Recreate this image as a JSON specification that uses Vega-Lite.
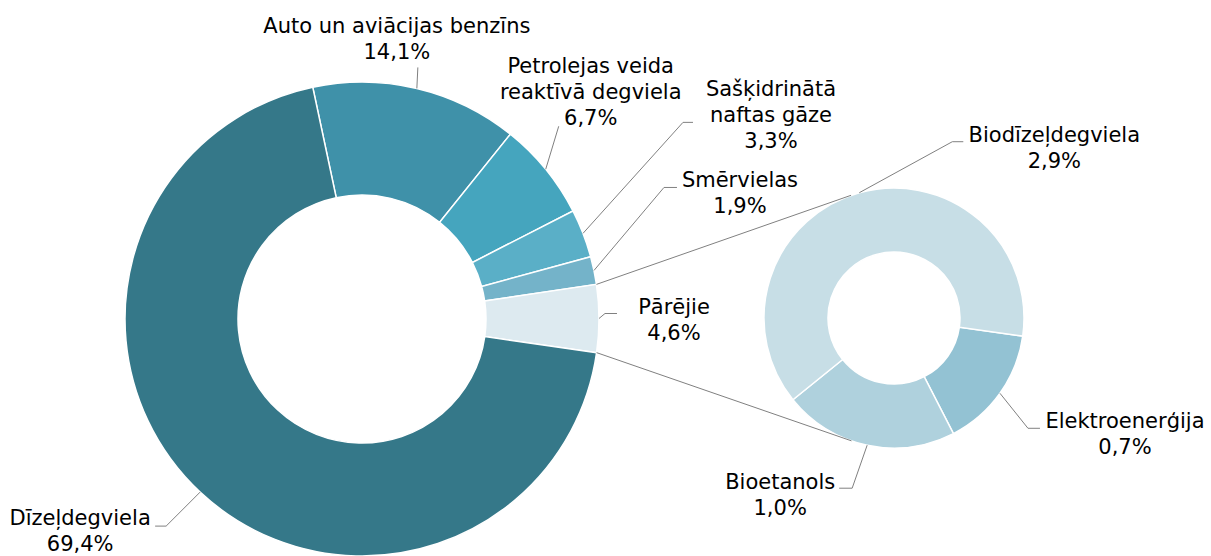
{
  "$schema": "https://vega.github.io/schema/vega-lite/v6.json",
  "width": 1211,
  "height": 556,
  "padding": 0,
  "autosize": {"type": "none"},
  "background": "white",
  "config": {"view": {"stroke": null}},
  "datasets": {
    "main": [
      {"k": "Auto un aviācijas benzīns", "v": 14.1},
      {"k": "Petrolejas veida reaktīvā degviela", "v": 6.7},
      {"k": "Sašķidrinātā naftas gāze", "v": 3.3},
      {"k": "Smērvielas", "v": 1.9},
      {"k": "Pārējie", "v": 4.6},
      {"k": "Dīzeļdegviela", "v": 69.4}
    ],
    "detail": [
      {"k": "Elektroenerģija", "v": 0.7},
      {"k": "Bioetanols", "v": 1.0},
      {"k": "Biodīzeļdegviela", "v": 2.9}
    ]
  },
  "resolve": {"scale": {"theta": "independent"}},
  "layer": [
    {
      "data": {"name": "main"},
      "transform": [{"window": [{"op": "row_number", "as": "idx"}]}],
      "mark": {"type": "arc", "outerRadius": 237, "innerRadius": 124, "stroke": "white", "strokeWidth": 1.5},
      "encoding": {
        "x": {"datum": 0, "type": "quantitative", "scale": {"domain": [-362, 849], "nice": false, "zero": false}, "axis": null},
        "y": {"datum": 0, "type": "quantitative", "scale": {"domain": [-319, 237], "reverse": true, "nice": false, "zero": false}, "axis": null},
        "theta": {"field": "v", "type": "quantitative", "stack": true, "scale": {"domain": [0, 100], "range": [-0.20944, 6.07375]}},
        "order": {"field": "idx", "type": "quantitative"},
        "color": {"field": "k", "type": "nominal", "legend": null,
          "scale": {"domain": ["Auto un aviācijas benzīns", "Petrolejas veida reaktīvā degviela", "Sašķidrinātā naftas gāze", "Smērvielas", "Pārējie", "Dīzeļdegviela", "Elektroenerģija", "Bioetanols", "Biodīzeļdegviela"],
                    "range": ["#3F91A9", "#45A5BE", "#5AAFC7", "#74B3C9", "#DDEAF0", "#357889", "#93C2D3", "#AFD1DD", "#C7DEE6"]}}
      }
    },
    {
      "data": {"name": "detail"},
      "transform": [{"window": [{"op": "row_number", "as": "idx"}]}],
      "mark": {"type": "arc", "outerRadius": 130, "innerRadius": 66, "stroke": "white", "strokeWidth": 1.5},
      "encoding": {
        "x": {"datum": 532, "type": "quantitative", "scale": {"domain": [-362, 849], "nice": false, "zero": false}, "axis": null},
        "y": {"datum": -1, "type": "quantitative", "scale": {"domain": [-319, 237], "reverse": true, "nice": false, "zero": false}, "axis": null},
        "theta": {"field": "v", "type": "quantitative", "stack": true, "scale": {"domain": [0, 4.6], "range": [1.71042, 7.99361]}},
        "order": {"field": "idx", "type": "quantitative"},
        "color": {"field": "k", "type": "nominal", "legend": null}
      }
    },
    {
      "data": {"name": "main"},
      "transform": [
        {"window": [{"op": "row_number", "as": "idx"}]},
        {"window": [{"op": "sum", "field": "v", "as": "cum"}], "sort": [{"field": "idx"}], "frame": [null, 0]},
        {"filter": "datum.k == 'Pārējie'"},
        {"calculate": "-12*PI/180 + 2*PI*(datum.cum - datum.v)/100", "as": "a1"},
        {"calculate": "-12*PI/180 + 2*PI*datum.cum/100", "as": "a2"},
        {"calculate": "237*sin(datum.a1)", "as": "px1"},
        {"calculate": "-237*cos(datum.a1)", "as": "py1"},
        {"calculate": "237*sin(datum.a2)", "as": "px2"},
        {"calculate": "-237*cos(datum.a2)", "as": "py2"},
        {"calculate": "atan2(datum.px1 - 532, -(datum.py1 + 1)) + acos(130/sqrt(pow(datum.px1 - 532, 2) + pow(datum.py1 + 1, 2)))", "as": "t1"},
        {"calculate": "atan2(datum.px2 - 532, -(datum.py2 + 1)) - acos(130/sqrt(pow(datum.px2 - 532, 2) + pow(datum.py2 + 1, 2)))", "as": "t2"},
        {"calculate": "532 + 130*sin(datum.t1)", "as": "qx1"},
        {"calculate": "-1 - 130*cos(datum.t1)", "as": "qy1"},
        {"calculate": "532 + 130*sin(datum.t2)", "as": "qx2"},
        {"calculate": "-1 - 130*cos(datum.t2)", "as": "qy2"}
      ],
      "layer": [
        {
          "mark": {"type": "rule", "color": "#808080", "strokeWidth": 1},
          "encoding": {
            "x": {"field": "px1", "type": "quantitative", "scale": {"domain": [-362, 849], "nice": false, "zero": false}, "axis": null},
            "y": {"field": "py1", "type": "quantitative", "scale": {"domain": [-319, 237], "reverse": true, "nice": false, "zero": false}, "axis": null},
            "x2": {"field": "qx1"},
            "y2": {"field": "qy1"}
          }
        },
        {
          "mark": {"type": "rule", "color": "#808080", "strokeWidth": 1},
          "encoding": {
            "x": {"field": "px2", "type": "quantitative", "scale": {"domain": [-362, 849], "nice": false, "zero": false}, "axis": null},
            "y": {"field": "py2", "type": "quantitative", "scale": {"domain": [-319, 237], "reverse": true, "nice": false, "zero": false}, "axis": null},
            "x2": {"field": "qx2"},
            "y2": {"field": "qy2"}
          }
        }
      ]
    },
    {
      "data": {"name": "main"},
      "transform": [
        {"window": [{"op": "row_number", "as": "idx"}]},
        {"window": [{"op": "sum", "field": "v", "as": "cum"}], "sort": [{"field": "idx"}], "frame": [null, 0]},
        {"calculate": "-12*PI/180 + 2*PI*(datum.cum - datum.v/2)/100", "as": "ang"},
        {"calculate": "[[1,-21,0,-20,-55],[13,-43,0,45,-96],[100,-111,10,188,-137],[70,-83,13,146,-83],[6,-5,12,75,-5],[-34,34,-11,-120,33]][datum.idx-1]", "as": "p"},
        {"calculate": "237*sin(datum.ang)", "as": "x0"},
        {"calculate": "-237*cos(datum.ang)", "as": "y0"},
        {"calculate": "datum.x0 + datum.p[0]", "as": "x1"},
        {"calculate": "datum.y0 + datum.p[1]", "as": "y1"},
        {"calculate": "datum.x1 + datum.p[2]", "as": "x2"},
        {"calculate": "datum.x0 + datum.p[3]", "as": "lx"},
        {"calculate": "datum.y0 + datum.p[4]", "as": "ly"},
        {"calculate": "replace(datum.k, regexp(' (?=reaktīvā|naftas)'), '|') + '|' + replace(format(datum.v, '.1f'), '.', ',') + '%'", "as": "txt"}
      ],
      "layer": [
        {
          "mark": {"type": "rule", "color": "#808080", "strokeWidth": 1},
          "encoding": {
            "x": {"field": "x0", "type": "quantitative", "scale": {"domain": [-362, 849], "nice": false, "zero": false}, "axis": null},
            "y": {"field": "y0", "type": "quantitative", "scale": {"domain": [-319, 237], "reverse": true, "nice": false, "zero": false}, "axis": null},
            "x2": {"field": "x1"},
            "y2": {"field": "y1"}
          }
        },
        {
          "mark": {"type": "rule", "color": "#808080", "strokeWidth": 1},
          "encoding": {
            "x": {"field": "x1", "type": "quantitative", "scale": {"domain": [-362, 849], "nice": false, "zero": false}, "axis": null},
            "y": {"field": "y1", "type": "quantitative", "scale": {"domain": [-319, 237], "reverse": true, "nice": false, "zero": false}, "axis": null},
            "x2": {"field": "x2"},
            "y2": {"field": "y1"}
          }
        },
        {
          "mark": {"type": "text", "align": "center", "baseline": "alphabetic", "font": "DejaVu Sans", "fontSize": 21, "lineHeight": 26, "color": "#000000", "lineBreak": "|"},
          "encoding": {
            "x": {"field": "lx", "type": "quantitative", "scale": {"domain": [-362, 849], "nice": false, "zero": false}, "axis": null},
            "y": {"field": "ly", "type": "quantitative", "scale": {"domain": [-319, 237], "reverse": true, "nice": false, "zero": false}, "axis": null},
            "text": {"field": "txt", "type": "nominal"}
          }
        }
      ]
    },
    {
      "data": {"name": "detail"},
      "transform": [
        {"window": [{"op": "row_number", "as": "idx"}]},
        {"window": [{"op": "sum", "field": "v", "as": "cum"}], "sort": [{"field": "idx"}], "frame": [null, 0]},
        {"calculate": "98*PI/180 + 2*PI*(datum.cum - datum.v/2)/4.6", "as": "ang"},
        {"calculate": "[[28,35,12,125,35],[-15,43,-13,-87,44],[93,-51,11,195,-51]][datum.idx-1]", "as": "p"},
        {"calculate": "532 + 130*sin(datum.ang)", "as": "x0"},
        {"calculate": "-1 - 130*cos(datum.ang)", "as": "y0"},
        {"calculate": "datum.x0 + datum.p[0]", "as": "x1"},
        {"calculate": "datum.y0 + datum.p[1]", "as": "y1"},
        {"calculate": "datum.x1 + datum.p[2]", "as": "x2"},
        {"calculate": "datum.x0 + datum.p[3]", "as": "lx"},
        {"calculate": "datum.y0 + datum.p[4]", "as": "ly"},
        {"calculate": "datum.k + '|' + replace(format(datum.v, '.1f'), '.', ',') + '%'", "as": "txt"}
      ],
      "layer": [
        {
          "mark": {"type": "rule", "color": "#808080", "strokeWidth": 1},
          "encoding": {
            "x": {"field": "x0", "type": "quantitative", "scale": {"domain": [-362, 849], "nice": false, "zero": false}, "axis": null},
            "y": {"field": "y0", "type": "quantitative", "scale": {"domain": [-319, 237], "reverse": true, "nice": false, "zero": false}, "axis": null},
            "x2": {"field": "x1"},
            "y2": {"field": "y1"}
          }
        },
        {
          "mark": {"type": "rule", "color": "#808080", "strokeWidth": 1},
          "encoding": {
            "x": {"field": "x1", "type": "quantitative", "scale": {"domain": [-362, 849], "nice": false, "zero": false}, "axis": null},
            "y": {"field": "y1", "type": "quantitative", "scale": {"domain": [-319, 237], "reverse": true, "nice": false, "zero": false}, "axis": null},
            "x2": {"field": "x2"},
            "y2": {"field": "y1"}
          }
        },
        {
          "mark": {"type": "text", "align": "center", "baseline": "alphabetic", "font": "DejaVu Sans", "fontSize": 21, "lineHeight": 26, "color": "#000000", "lineBreak": "|"},
          "encoding": {
            "x": {"field": "lx", "type": "quantitative", "scale": {"domain": [-362, 849], "nice": false, "zero": false}, "axis": null},
            "y": {"field": "ly", "type": "quantitative", "scale": {"domain": [-319, 237], "reverse": true, "nice": false, "zero": false}, "axis": null},
            "text": {"field": "txt", "type": "nominal"}
          }
        }
      ]
    }
  ]
}
